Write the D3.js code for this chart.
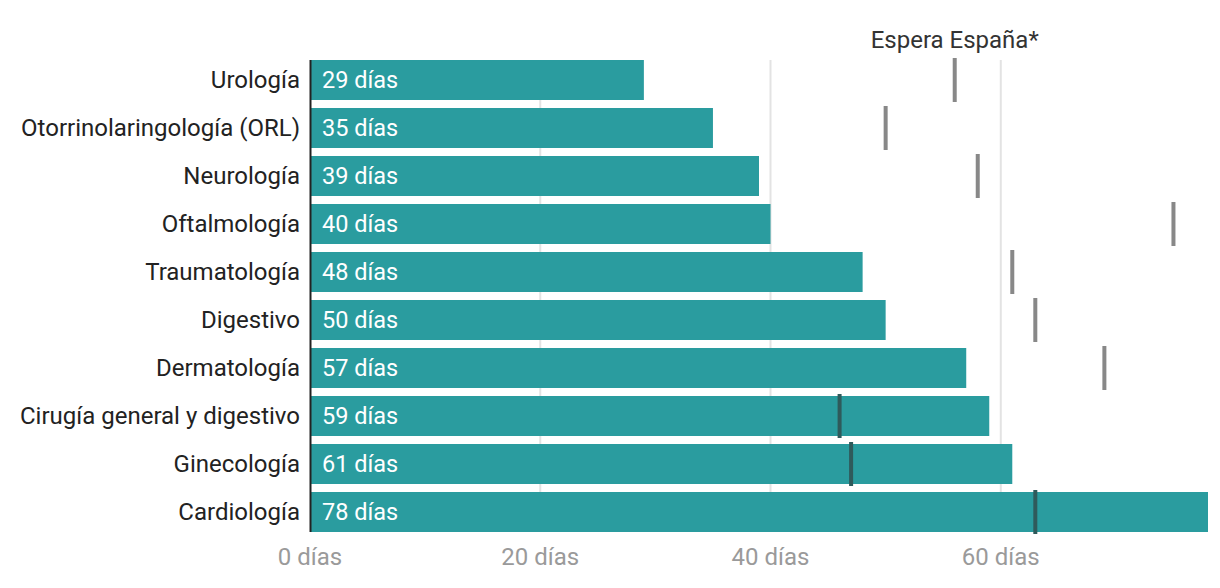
<!DOCTYPE html>
<html lang="es">
<head>
    <meta charset="utf-8">
    <title>Espera por especialidad</title>
    <script src="https://cdn.jsdelivr.net/npm/d3@7"></script>
</head>
<style>
    body { margin: 0; background: #fff; }
    svg { font-family: Roboto, sans-serif; }
    .grid line { stroke: #e3e3e3; stroke-width: 2px; }
    .tick-label { fill: #9a9a9a; font-size: 24px; }
    .cat-label { fill: #222; font-size: 24px; }
    .val-label { fill: #fff; font-size: 23.5px; }
</style>
<body>
<script type="text/javascript">

    var categories = ['Urología', 'Otorrinolaringología (ORL)', 'Neurología', 'Oftalmología',
        'Traumatología', 'Digestivo', 'Dermatología', 'Cirugía general y digestivo',
        'Ginecología', 'Cardiología'];
    var waitDays = [29, 35, 39, 40, 48, 50, 57, 59, 61, 78];
    var spainDays = [56, 50, 58, 75, 61, 63, 69, 46, 47, 63];
    var tickValues = [0, 20, 40, 60];

    var width = 1220, height = 588,
        plotLeft = 310, plotRight = 1208, plotTop = 56, plotBottom = 536;

    var svg = d3.select('body').append('svg')
        .attr('width', width)
        .attr('height', height);

    var x = d3.scaleLinear()
        .domain([0, 78])
        .range([plotLeft, plotRight]);

    var y = d3.scaleBand()
        .domain(categories)
        .range([plotTop, plotBottom])
        .paddingInner(1 / 6)
        .paddingOuter(1 / 12);

    var rows = categories.map(function(c, i) {
        return {cat: c, value: waitDays[i], spain: spainDays[i]};
    });

    var barTop = y(categories[0]),
        barBottom = y(categories[categories.length - 1]) + y.bandwidth();

    // gridlines
    svg.append('g')
        .attr('class', 'grid')
        .selectAll('line')
        .data(tickValues.slice(1))
        .enter()
        .append('line')
        .attr('x1', function(d) { return x(d); })
        .attr('x2', function(d) { return x(d); })
        .attr('y1', barTop)
        .attr('y2', barBottom);

    // bars
    svg.append('g')
        .selectAll('rect')
        .data(rows)
        .enter()
        .append('rect')
        .attr('x', x(0))
        .attr('y', function(d) { return y(d.cat); })
        .attr('width', function(d) { return x(d.value) - x(0); })
        .attr('height', y.bandwidth())
        .attr('fill', '#2a9c9f');

    // Spain markers
    svg.append('g')
        .selectAll('rect')
        .data(rows)
        .enter()
        .append('rect')
        .attr('x', function(d) { return x(d.spain) - 2; })
        .attr('y', function(d) { return y(d.cat) - 2; })
        .attr('width', 4)
        .attr('height', y.bandwidth() + 4)
        .attr('fill', function(d) { return d.spain < d.value ? '#2f5a5b' : '#888888'; });

    svg.append('text')
        .attr('x', x(spainDays[0]))
        .attr('y', 48)
        .attr('text-anchor', 'middle')
        .style('font-size', '24px')
        .style('fill', '#333')
        .text('Espera España*');

    // category labels
    svg.append('g')
        .selectAll('text')
        .data(rows)
        .enter()
        .append('text')
        .attr('class', 'cat-label')
        .attr('x', plotLeft - 10)
        .attr('y', function(d) { return y(d.cat) + y.bandwidth() / 2; })
        .attr('dy', '0.35em')
        .attr('text-anchor', 'end')
        .text(function(d) { return d.cat; });

    // value labels
    svg.append('g')
        .selectAll('text')
        .data(rows)
        .enter()
        .append('text')
        .attr('class', 'val-label')
        .attr('x', plotLeft + 12)
        .attr('y', function(d) { return y(d.cat) + y.bandwidth() / 2; })
        .attr('dy', '0.35em')
        .text(function(d) { return d.value + ' días'; });

    // y axis line
    svg.append('line')
        .attr('x1', plotLeft + 0.5)
        .attr('x2', plotLeft + 0.5)
        .attr('y1', barTop)
        .attr('y2', barBottom)
        .attr('stroke', '#222')
        .attr('stroke-width', 2);

    // x tick labels
    svg.append('g')
        .selectAll('text')
        .data(tickValues)
        .enter()
        .append('text')
        .attr('class', 'tick-label')
        .attr('x', function(d) { return x(d); })
        .attr('y', 557)
        .attr('dy', '0.35em')
        .attr('text-anchor', 'middle')
        .text(function(d) { return d + ' días'; });

</script>
</body>
</html>
